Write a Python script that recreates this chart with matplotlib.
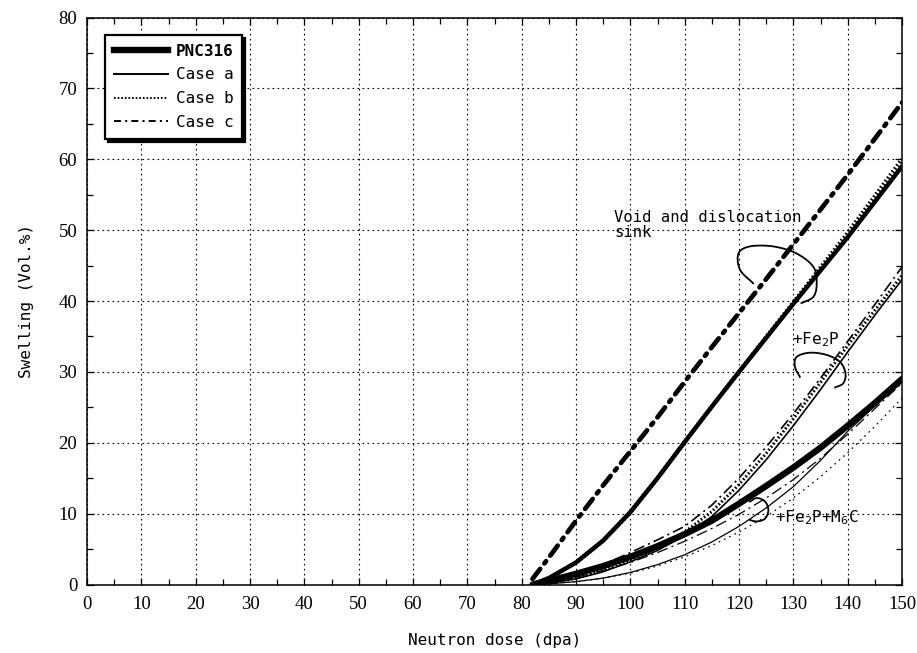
import numpy as np
import matplotlib
matplotlib.use("Agg")
import matplotlib.pyplot as plt
from matplotlib.lines import Line2D

plt.rcParams['lines.scale_dashes'] = False

# ---------------- data ----------------
dose = [82, 85, 90, 95, 100, 105, 110, 115, 120, 125, 130, 135, 140, 145, 150]

pnc316 = [0.0, 0.5, 1.5, 2.6, 3.9, 5.4, 7.1, 9.0, 11.4, 13.9, 16.5, 19.3, 22.4, 25.6, 29.0]

# Void and dislocation sink
sink_a = [0.0, 0.9, 3.1, 6.2, 10.2, 15.0, 20.1, 25.1, 30.0, 34.8, 39.6, 44.3, 49.0, 54.0, 59.0]
sink_b = [0.0, 0.9, 3.1, 6.2, 10.2, 15.0, 20.1, 25.1, 30.0, 34.9, 39.8, 44.7, 49.6, 54.8, 60.0]
sink_c = [0.8, 3.8, 9.0, 14.0, 18.8, 23.6, 28.6, 33.5, 38.3, 43.1, 48.0, 52.9, 57.8, 62.9, 68.0]

# +Fe2P
fe2p_a = [0.0, 0.2, 0.8, 1.8, 3.2, 4.8, 6.9, 9.6, 13.3, 17.6, 22.4, 27.5, 32.8, 38.0, 43.0]
fe2p_b = [0.0, 0.2, 0.9, 2.0, 3.4, 5.2, 7.4, 10.3, 14.1, 18.5, 23.4, 28.5, 33.7, 38.7, 43.6]
fe2p_c = [0.0, 0.3, 1.3, 2.8, 4.5, 6.3, 8.2, 11.2, 15.0, 19.4, 24.1, 29.1, 34.3, 39.5, 44.8]

# +Fe2P+M6C
m6c_a = [0.0, 0.1, 0.4, 0.9, 1.7, 2.8, 4.2, 6.0, 8.2, 10.8, 13.8, 17.5, 21.6, 25.2, 28.6]
m6c_b = [0.0, 0.1, 0.4, 0.9, 1.6, 2.6, 3.9, 5.5, 7.4, 9.6, 12.2, 15.2, 18.6, 22.3, 26.3]
m6c_c = [0.0, 0.3, 1.0, 2.0, 3.1, 4.5, 6.1, 7.9, 9.9, 12.2, 14.8, 17.8, 21.2, 24.8, 28.4]

legend_labels = ["PNC316", "Case a", "Case b", "Case c"]
x_ticks = list(range(0, 151, 10))
y_ticks = list(range(0, 81, 10))

# hand-drawn bracket loops (annotation decorations, data coords)
loop1_x = [122.6, 120.2, 119.9, 122.0, 126.3, 130.6, 133.7, 134.3, 133.7, 131.5]
loop1_y = [42.5, 44.4, 46.7, 47.7, 47.7, 46.7, 44.8, 42.5, 40.6, 39.7]
loop2_x = [131.2, 130.3, 130.6, 133.0, 136.1, 138.6, 139.6, 139.2, 137.7]
loop2_y = [29.3, 30.7, 32.1, 32.7, 32.4, 31.4, 29.8, 28.4, 27.8]
loop3_x = [122.0, 123.3, 124.8, 125.4, 124.8, 123.3, 122.0]
loop3_y = [11.7, 12.2, 11.7, 10.5, 9.3, 8.9, 9.1]

# ---------------- styles ----------------
MONO = ['DejaVu Sans Mono']
SERIF = ['Liberation Serif', 'DejaVu Serif']

dashdot_thick = (0, (9, 5, 2, 5))
dashdot_thin = (0, (8, 3, 1.5, 3))
dot_bold = (0, (1.2, 1.6))
dot_thin = (0, (1.2, 3))


def smooth(px, py, n=12):
    px = np.asarray(px, float)
    py = np.asarray(py, float)
    P = np.column_stack([px, py])
    P = np.vstack([2 * P[0] - P[1], P, 2 * P[-1] - P[-2]])
    out = []
    for i in range(1, len(P) - 2):
        p0, p1, p2, p3 = P[i - 1], P[i], P[i + 1], P[i + 2]
        t = np.linspace(0, 1, n, endpoint=False)[:, None]
        seg = 0.5 * ((2 * p1) + (-p0 + p2) * t + (2 * p0 - 5 * p1 + 4 * p2 - p3) * t ** 2
                     + (-p0 + 3 * p1 - 3 * p2 + p3) * t ** 3)
        out.append(seg)
    out.append(P[-2][None, :])
    out = np.vstack(out)
    return out[:, 0], out[:, 1]


fig = plt.figure(figsize=(9.17, 6.53), dpi=100)
ax = fig.add_axes([87 / 917, 1 - 584.5 / 653, 815 / 917, 567 / 653])

# group 3 (+Fe2P+M6C)
ax.plot(dose, m6c_b, color='black', lw=0.9, linestyle=dot_thin)
ax.plot(dose, m6c_a, color='black', lw=0.9)
ax.plot(dose, m6c_c, color='black', lw=0.9, linestyle=dashdot_thin)
# group 2 (+Fe2P)
ax.plot(dose, fe2p_b, color='black', lw=2.2, linestyle=dot_bold)
ax.plot(dose, fe2p_a, color='black', lw=1.2)
ax.plot(dose, fe2p_c, color='black', lw=1.2, linestyle=dashdot_thin)
# group 1 (void and dislocation sink)
ax.plot(dose, sink_b, color='black', lw=3.0, linestyle=dot_bold)
ax.plot(dose, sink_a, color='black', lw=3.2, solid_capstyle='round', solid_joinstyle='round')
ax.plot(dose, sink_c, color='black', lw=3.4, linestyle=dashdot_thick, dash_capstyle='round')
# PNC316
ax.plot(dose, pnc316, color='black', lw=4.6, solid_capstyle='round', solid_joinstyle='round')

# loops
for lx, ly in [(loop1_x, loop1_y), (loop2_x, loop2_y), (loop3_x, loop3_y)]:
    sx, sy = smooth(lx, ly)
    ax.plot(sx, sy, color='black', lw=1.3)

# annotations
ax.text(97, 52.8, "Void and dislocation\nsink", family=MONO, fontsize=11.2,
        va='top', ha='left', linespacing=0.95)
ax.text(129.7, 34.6, r"+Fe$_2$P", family=MONO, fontsize=11.5, va='center', ha='left')
ax.text(126.6, 9.5, r"+Fe$_2$P+M$_6$C", family=MONO, fontsize=11.5, va='center', ha='left')

# axes
ax.set_xlim(0, 150)
ax.set_ylim(0, 80)
ax.set_xticks(x_ticks)
ax.set_yticks(y_ticks)
ax.set_xticks(np.arange(0, 151, 5), minor=True)
ax.set_yticks(np.arange(0, 81, 5), minor=True)
ax.tick_params(which='both', direction='in', top=True, right=True, width=0.9)
ax.tick_params(which='major', length=5)
ax.tick_params(which='minor', length=4)
ax.tick_params(axis='x', which='major', pad=8)
ax.tick_params(axis='y', which='major', pad=7)
for lab in ax.get_xticklabels() + ax.get_yticklabels():
    lab.set_family(SERIF)
    lab.set_fontsize(13.5)
for s in ax.spines.values():
    s.set_linewidth(1.1)
ax.grid(which='major', color='black', lw=0.8, linestyle=(0, (1.2, 2.4)))

ax.set_xlabel("Neutron dose (dpa)", family=MONO, fontsize=11.5, labelpad=15)
ax.set_ylabel("Swelling (Vol.%)", family=MONO, fontsize=11.5, labelpad=18)

# legend
handles = [
    Line2D([], [], color='black', lw=4.6),
    Line2D([], [], color='black', lw=1.4),
    Line2D([], [], color='black', lw=1.4, linestyle=(0, (1.2, 1.4))),
    Line2D([], [], color='black', lw=1.4, linestyle=(0, (5, 3, 1.5, 3))),
]
leg = ax.legend(handles, legend_labels, loc='upper left', bbox_to_anchor=(0.018, 0.975),
                prop={'family': MONO, 'size': 11.5}, handlelength=3.4, handletextpad=0.5,
                labelspacing=0.55, borderpad=0.55, borderaxespad=0.2, fancybox=False, framealpha=1,
                edgecolor='black', shadow={'color': 'black', 'alpha': 1, 'ox': 2, 'oy': -2})
leg.get_frame().set_linewidth(1.6)
leg.get_texts()[0].set_fontweight('bold')

fig.savefig("out.png", dpi=100)
